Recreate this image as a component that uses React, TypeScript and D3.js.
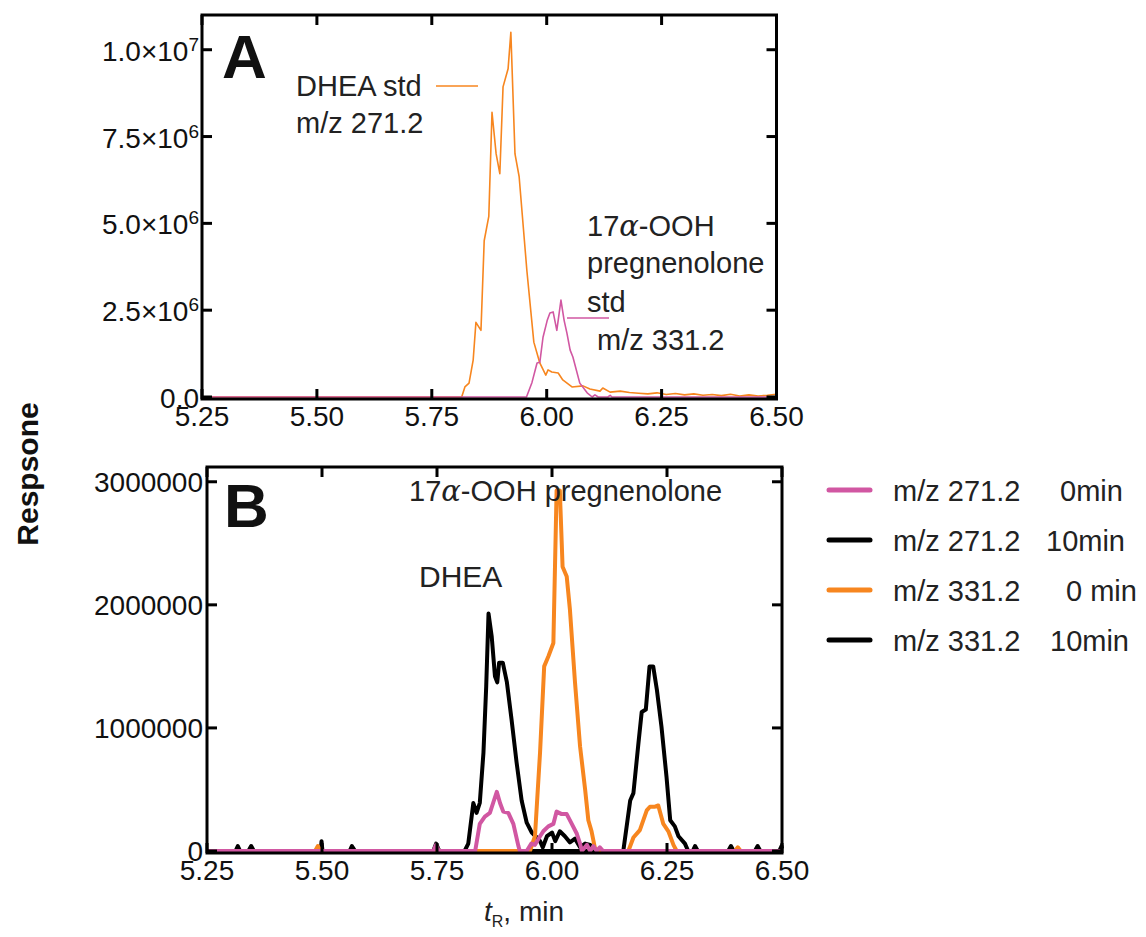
import React from "react";
import * as d3 from "d3";

type Pt = [number, number];

// ---------- Panel A data (time, response) ----------
const dheaStdA: Pt[] = [
  [5.25, 0], [5.5, 0], [5.7, 0], [5.815, 0], [5.822, 0.29e6], [5.831, 0.4e6], [5.84, 1.06e6],
  [5.846, 2.15e6], [5.857, 1.92e6], [5.864, 4.5e6], [5.874, 5.2e6], [5.881, 8.2e6], [5.89, 7.0e6],
  [5.898, 6.43e6], [5.905, 8.93e6], [5.916, 9.45e6], [5.922, 10.5e6], [5.931, 7.0e6], [5.94, 6.35e6],
  [5.957, 3.62e6], [5.972, 1.58e6], [5.985, 0.98e6], [5.998, 0.63e6], [6.003, 0.78e6], [6.011, 0.72e6],
  [6.025, 0.69e6], [6.035, 0.49e6], [6.055, 0.29e6], [6.079, 0.32e6], [6.094, 0.23e6], [6.116, 0.17e6],
  [6.122, 0.26e6], [6.138, 0.14e6], [6.16, 0.17e6], [6.18, 0.13e6], [6.2, 0.11e6], [6.22, 0.09e6],
  [6.24, 0.12e6], [6.26, 0.07e6], [6.28, 0.1e6], [6.3, 0.06e6], [6.32, 0.09e6], [6.34, 0.05e6],
  [6.36, 0.07e6], [6.38, 0.04e6], [6.4, 0.08e6], [6.42, 0.03e6], [6.44, 0.06e6], [6.46, 0.03e6],
  [6.48, 0.05e6], [6.5, 0.08e6],
];

const oohStdA: Pt[] = [
  [5.25, 0], [5.956, 0], [5.968, 0.42e6], [5.979, 0.98e6], [5.985, 1.0e6], [5.992, 1.72e6],
  [6.001, 2.2e6], [6.007, 2.42e6], [6.014, 2.45e6], [6.022, 1.92e6], [6.031, 2.79e6], [6.038, 2.2e6],
  [6.044, 1.84e6], [6.051, 1.35e6], [6.057, 1.15e6], [6.072, 0.4e6], [6.088, 0.12e6], [6.099, 0],
  [6.105, 0.06e6], [6.112, 0], [6.133, 0], [6.138, 0.05e6], [6.142, 0], [6.5, 0],
];

// ---------- Panel B data ----------
const mz271_10min: Pt[] = [
  [5.25, 0], [5.312, 0], [5.317, 0.04e6], [5.322, 0], [5.34, 0], [5.346, 0.04e6], [5.352, 0],
  [5.497, 0], [5.499, 0.08e6], [5.501, 0], [5.56, 0], [5.565, 0.04e6], [5.572, 0],
  [5.742, 0], [5.748, 0.06e6], [5.755, 0], [5.81, 0], [5.818, 0.06e6], [5.829, 0.39e6],
  [5.836, 0.31e6], [5.843, 0.39e6], [5.851, 0.8e6], [5.857, 1.34e6], [5.862, 1.93e6],
  [5.869, 1.74e6], [5.876, 1.42e6], [5.881, 1.37e6], [5.885, 1.53e6], [5.893, 1.53e6],
  [5.902, 1.37e6], [5.912, 1.07e6], [5.923, 0.72e6], [5.934, 0.41e6], [5.945, 0.23e6],
  [5.956, 0.15e6], [5.967, 0.11e6], [5.974, 0.08e6], [5.98, 0.03e6], [5.989, 0.12e6],
  [6.0, 0.15e6], [6.007, 0.08e6], [6.017, 0.16e6], [6.028, 0.12e6], [6.039, 0.07e6],
  [6.05, 0.1e6], [6.061, 0.03e6], [6.072, 0.06e6], [6.083, 0.05e6], [6.093, 0], [6.5, 0],
];

const mz331_10min: Pt[] = [
  [5.25, 0], [6.155, 0], [6.17, 0.41e6], [6.177, 0.47e6], [6.188, 0.88e6], [6.195, 1.13e6],
  [6.204, 1.15e6], [6.212, 1.5e6], [6.22, 1.5e6], [6.228, 1.31e6], [6.238, 1.01e6],
  [6.249, 0.6e6], [6.257, 0.25e6], [6.267, 0.2e6], [6.275, 0.12e6], [6.289, 0.06e6],
  [6.296, 0], [6.306, 0], [6.311, 0.04e6], [6.317, 0], [6.383, 0], [6.389, 0.04e6], [6.395, 0],
  [6.441, 0], [6.447, 0.04e6], [6.453, 0], [6.494, 0], [6.499, 0.04e6], [6.5, 0.02e6],
];

const mz331_0min: Pt[] = [
  [5.25, 0], [5.485, 0], [5.491, 0.04e6], [5.497, 0], [5.952, 0], [5.963, 0.12e6],
  [5.974, 0.8e6], [5.983, 1.5e6], [5.992, 1.58e6], [6.003, 1.69e6], [6.01, 2.93e6],
  [6.017, 2.93e6], [6.023, 2.31e6], [6.032, 2.23e6], [6.039, 1.96e6], [6.05, 1.37e6],
  [6.061, 0.85e6], [6.072, 0.5e6], [6.079, 0.25e6], [6.086, 0.16e6], [6.093, 0.03e6],
  [6.098, 0], [6.166, 0], [6.177, 0.11e6], [6.191, 0.17e6], [6.206, 0.33e6], [6.213, 0.36e6],
  [6.224, 0.36e6], [6.231, 0.37e6], [6.242, 0.22e6], [6.253, 0.16e6], [6.264, 0.05e6],
  [6.271, 0], [6.398, 0], [6.404, 0.03e6], [6.41, 0], [6.5, 0],
];

const mz271_0min: Pt[] = [
  [5.25, 0], [5.742, 0], [5.748, 0.05e6], [5.754, 0], [5.833, 0], [5.843, 0.22e6],
  [5.854, 0.28e6], [5.865, 0.31e6], [5.872, 0.39e6], [5.88, 0.48e6], [5.887, 0.39e6],
  [5.894, 0.32e6], [5.905, 0.31e6], [5.916, 0.22e6], [5.927, 0.04e6], [5.93, 0], [5.945, 0],
  [5.955, 0.06e6], [5.963, 0.05e6], [5.974, 0.12e6], [5.981, 0.16e6], [5.992, 0.2e6],
  [6.003, 0.22e6], [6.01, 0.32e6], [6.021, 0.3e6], [6.032, 0.3e6], [6.043, 0.22e6],
  [6.054, 0.14e6], [6.061, 0.06e6], [6.065, 0], [6.076, 0.05e6], [6.083, 0], [6.09, 0.04e6],
  [6.097, 0], [6.104, 0.03e6], [6.111, 0], [6.5, 0],
];

const xTicks = [5.25, 5.5, 5.75, 6.0, 6.25, 6.5];
const yTicksA = [0, 2.5e6, 5e6, 7.5e6, 1e7];
const yTicksB = [0, 1e6, 2e6, 3e6];

const legendItems = [
  { label: "m/z 271.2", time: "0min", timeX: 1060, color: "#D157A2" },
  { label: "m/z 271.2", time: "10min", timeX: 1046, color: "#000000" },
  { label: "m/z 331.2", time: "0 min", timeX: 1066, color: "#F7861F" },
  { label: "m/z 331.2", time: "10min", timeX: 1050, color: "#000000" },
];

const ORANGE = "#F7861F";
const MAGENTA = "#D157A2";
const FONT = "'Liberation Sans', Arial, Helvetica, sans-serif";

function Frame({ x0, x1, y0, y1, xScale, yScale, yTicks, yLabel, xLabelY }: any) {
  const tl = 10;
  return (
    <g>
      <rect x={x0} y={y0} width={x1 - x0} height={y1 - y0} fill="none" stroke="#000" strokeWidth={3} />
      {xTicks.map((t) => (
        <g key={"x" + t}>
          <line x1={xScale(t)} x2={xScale(t)} y1={y1} y2={y1 - tl} stroke="#000" strokeWidth={3} />
          <line x1={xScale(t)} x2={xScale(t)} y1={y0} y2={y0 + tl} stroke="#000" strokeWidth={3} />
          <text x={xScale(t)} y={xLabelY} textAnchor="middle" fontSize={28} fontFamily={FONT} fill="#111">
            {t.toFixed(2)}
          </text>
        </g>
      ))}
      {yTicks.map((v: number) => (
        <g key={"y" + v}>
          <line x1={x0} x2={x0 + tl} y1={yScale(v)} y2={yScale(v)} stroke="#000" strokeWidth={3} />
          <line x1={x1} x2={x1 - tl} y1={yScale(v)} y2={yScale(v)} stroke="#000" strokeWidth={3} />
          {yLabel(v)}
        </g>
      ))}
    </g>
  );
}

export default function App() {
  // Panel A scales
  const xA = d3.scaleLinear().domain([5.25, 6.5]).range([202, 776.5]);
  const yA = d3.scaleLinear().domain([0, 1.1e7]).range([397, 15]);
  // Panel B scales
  const xB = d3.scaleLinear().domain([5.25, 6.5]).range([207, 782]);
  const yB = d3.scaleLinear().domain([0, 3.12e6]).range([851, 467]);

  const lineA = d3.line<Pt>().x((d) => xA(d[0])).y((d) => yA(d[1]));
  const lineB = d3.line<Pt>().x((d) => xB(d[0])).y((d) => yB(d[1]));

  const labelA = (v: number) => {
    const y = yA(v) + 11;
    if (v === 0)
      return (
        <text x={199} y={y} textAnchor="end" fontSize={28} fontFamily={FONT} fill="#111">0.0</text>
      );
    const exp = Math.floor(Math.log10(v));
    const mant = (v / Math.pow(10, exp)).toFixed(1);
    return (
      <text x={199} y={y} textAnchor="end" fontSize={28} fontFamily={FONT} fill="#111">
        {mant}×10<tspan dy={-10} fontSize={19}>{exp}</tspan>
      </text>
    );
  };
  const labelB = (v: number) => (
    <text x={203} y={yB(v) + 10} textAnchor="end" fontSize={28} fontFamily={FONT} fill="#111">
      {d3.format("d")(v)}
    </text>
  );

  return (
    <svg width={1146} height={937} style={{ position: "absolute", left: 0, top: 0, background: "#fff" }}>
      <rect x={0} y={0} width={1146} height={937} fill="#fff" />
      {/* Panel A */}
      <path d={lineA(dheaStdA) || ""} fill="none" stroke={ORANGE} strokeWidth={1.6} strokeLinejoin="round" />
      <path d={lineA(oohStdA) || ""} fill="none" stroke={MAGENTA} strokeWidth={1.6} strokeLinejoin="round" />
      <Frame x0={202} x1={776.5} y0={15} y1={399} xScale={xA} yScale={yA} yTicks={yTicksA} yLabel={labelA} xLabelY={426} />
      <text x={222} y={78} fontSize={62} fontWeight="bold" fontFamily={FONT} fill="#111">A</text>
      <text x={296} y={96} fontSize={29} fontFamily={FONT} fill="#222">DHEA std</text>
      <text x={296} y={133} fontSize={29} fontFamily={FONT} fill="#222">m/z 271.2</text>
      <line x1={436} x2={478} y1={86} y2={86} stroke={ORANGE} strokeWidth={1.6} />
      <text x={587} y={236} fontSize={29} fontFamily={FONT} fill="#222">
        17<tspan fontStyle="italic" fontFamily="'DejaVu Serif', serif">α</tspan>-OOH
      </text>
      <text x={587} y={273} fontSize={29} fontFamily={FONT} fill="#222">pregnenolone</text>
      <text x={587} y={312} fontSize={29} fontFamily={FONT} fill="#222">std</text>
      <text x={597} y={350} fontSize={29} fontFamily={FONT} fill="#222">m/z 331.2</text>
      <line x1={567} x2={609} y1={318} y2={318} stroke={MAGENTA} strokeWidth={1.6} />

      {/* Panel B */}
      <path d={lineB(mz271_10min) || ""} fill="none" stroke="#000" strokeWidth={4} strokeLinejoin="round" />
      <path d={lineB(mz331_10min) || ""} fill="none" stroke="#000" strokeWidth={4} strokeLinejoin="round" />
      <path d={lineB(mz331_0min) || ""} fill="none" stroke={ORANGE} strokeWidth={4} strokeLinejoin="round" />
      <path d={lineB(mz271_0min) || ""} fill="none" stroke={MAGENTA} strokeWidth={4} strokeLinejoin="round" />
      <Frame x0={207} x1={782} y0={467} y1={853} xScale={xB} yScale={yB} yTicks={yTicksB} yLabel={labelB} xLabelY={880} />
      <text x={224} y={527} fontSize={62} fontWeight="bold" fontFamily={FONT} fill="#111">B</text>
      <text x={409} y={501} fontSize={29} fontFamily={FONT} fill="#222">
        17<tspan fontStyle="italic" fontFamily="'DejaVu Serif', serif">α</tspan>-OOH pregnenolone
      </text>
      <text x={419} y={587} fontSize={30} fontFamily={FONT} fill="#222">DHEA</text>

      {/* Axis titles */}
      <text transform="translate(38,474) rotate(-90)" textAnchor="middle" fontSize={30} fontWeight="bold" fontFamily={FONT} fill="#111">
        Respsone
      </text>
      <text x={484} y={921} fontSize={28} fontFamily={FONT} fill="#222">
        <tspan fontStyle="italic">t</tspan>
        <tspan fontSize={16} dy={6}>R</tspan>
        <tspan dy={-6}>, min</tspan>
      </text>

      {/* Legend */}
      {legendItems.map((it, i) => {
        const cy = 490 + i * 50;
        return (
          <g key={i}>
            <line x1={829} x2={870} y1={cy} y2={cy} stroke={it.color} strokeWidth={5} strokeLinecap="round" />
            <text x={893} y={cy + 11} fontSize={29} fontFamily={FONT} fill="#222">{it.label}</text>
            <text x={it.timeX} y={cy + 11} fontSize={29} fontFamily={FONT} fill="#222">{it.time}</text>
          </g>
        );
      })}
    </svg>
  );
}
